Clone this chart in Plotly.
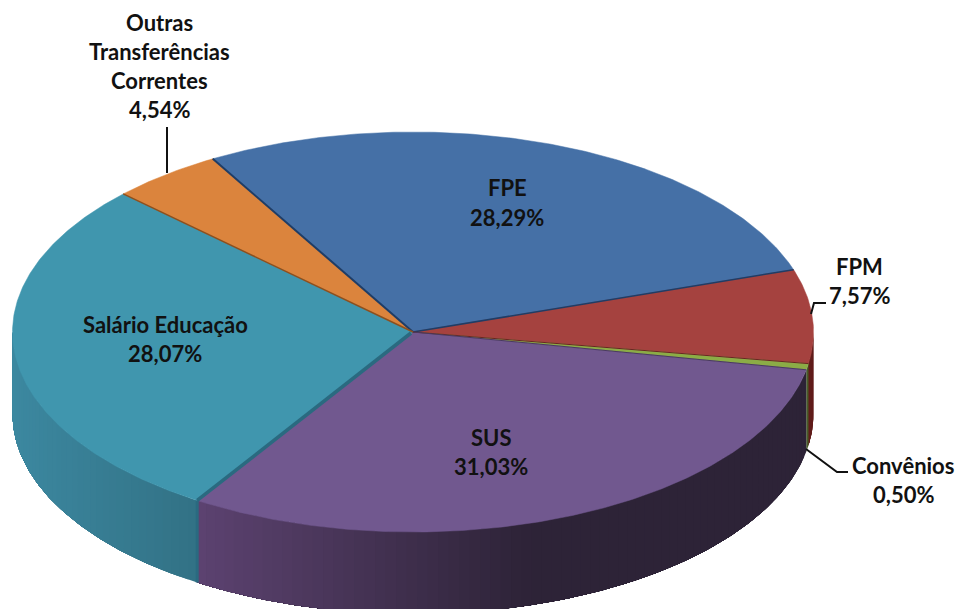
import math
import plotly.graph_objects as go

categories = ["FPE", "FPM", "Convênios", "SUS", "Salário Educação", "Outras Transferências Correntes"]
values = [28.29, 7.57, 0.50, 31.03, 28.07, 4.54]
value_labels = ["28,29%", "7,57%", "0,50%", "31,03%", "28,07%", "4,54%"]
top_colors = ["#4570a6", "#a5423f", "#8bac46", "#71588f", "#4096ae", "#db843d"]
edge_colors = ["#1f3d66", "#6a2422", "#4a6a22", "#4a3a60", "#2a6a80", "#8a5020"]

CX, CY, RX, RY, DEPTH = 413.0, 332.0, 400.5, 200.0, 82.0
START = -30.0


def pt(deg, dy=0.0):
    a = math.radians(deg)
    return CX + RX * math.sin(a), CY - RY * math.cos(a) + dy


def arc(a0, a1, dy=0.0):
    n = max(2, int(abs(a1 - a0) * 2))
    return [pt(a0 + (a1 - a0) * i / n, dy) for i in range(n + 1)]


def lerp(c0, c1, t):
    t = max(0.0, min(1.0, t))
    return "rgb(%d,%d,%d)" % tuple(round(a + (b - a) * t) for a, b in zip(c0, c1))


def side_color(i, x):
    if i == 1:
        return "rgb(96,28,26)"
    if i == 2:
        return "rgb(72,92,40)"
    if i == 3:
        return lerp((92, 66, 112), (45, 35, 55), (x - 200) / 330)
    if i == 4:
        return lerp((60, 136, 160), (50, 113, 133), (x - 12) / 185)
    return "rgb(60,90,130)"


fig = go.Figure()


def poly(pts, color, lw=0.0):
    xs = [p[0] for p in pts] + [pts[0][0]]
    ys = [p[1] for p in pts] + [pts[0][1]]
    fig.add_trace(go.Scatter(x=xs, y=ys, mode="lines", fill="toself", fillcolor=color,
                             line=dict(color=color, width=lw), hoverinfo="skip", showlegend=False))


def line(pts, color="#111111", w=2.0):
    fig.add_trace(go.Scatter(x=[p[0] for p in pts], y=[p[1] for p in pts], mode="lines",
                             line=dict(color=color, width=w), hoverinfo="skip", showlegend=False))


# slice boundaries derived from the values
bounds = []
a = START
for v in values:
    bounds.append((a, a + v * 3.6))
    a += v * 3.6

# side walls, front half only; each band runs to the wall's end and is overpainted by the next
for i, (a0, a1) in enumerate(bounds):
    lo, hi = max(a0, 90.0), min(a1, 270.0)
    if hi <= lo:
        continue
    steps = max(1, int((hi - lo) / 1.5))
    for s in range(steps):
        b0 = lo + (hi - lo) * s / steps
        b1 = lo + (hi - lo) * (s + 1) / steps
        xm = (pt(b0)[0] + pt(b1)[0]) / 2
        poly(arc(b0, hi) + arc(hi, b0, DEPTH), side_color(i, xm))

# top faces
for i, (a0, a1) in enumerate(bounds):
    poly([(CX, CY)] + arc(a0, a1), top_colors[i], 0.5)

# dark cut lines between slices
line([(CX, CY), pt(bounds[0][0])], edge_colors[0], 2)
line([(CX, CY), pt(bounds[0][1])], edge_colors[0], 1.5)
line([(CX, CY), pt(bounds[1][1])], edge_colors[1], 1)
line([(CX, CY), pt(bounds[2][1])], edge_colors[3], 1)
x_cut, y_cut = pt(bounds[3][1])
line([(CX - 2, CY + 1), (x_cut, y_cut)], edge_colors[4], 3.5)
line([(CX, CY), pt(bounds[4][1])], edge_colors[5], 1.5)
line([(x_cut, y_cut), (x_cut, y_cut + DEPTH)], edge_colors[4], 3)

# leader lines
line([(167, 173), (167, 127)])
line([(811, 314), (814, 303), (826, 303)])
line([(806, 449), (837, 472), (848, 472)])

# text, each line placed on its own to keep the line spacing
label_lines = [
    (["FPE", value_labels[0]], 507, [187, 217]),
    (["FPM", value_labels[1]], 859, [266, 295]),
    (["Convênios", value_labels[2]], 903, [465, 494]),
    (["SUS", value_labels[3]], 491, [437, 466]),
    (["Salário Educação", value_labels[4]], 165, [324, 353]),
    (["Outras", "Transferências", "Correntes", value_labels[5]], 159, [22, 51, 80, 109]),
]
for texts, x, ys in label_lines:
    for t, y in zip(texts, ys):
        fig.add_annotation(x=x, y=y, text=t, showarrow=False, xanchor="center", yanchor="middle",
                           font=dict(family="Lato", size=22, color="#111111", weight="bold"))

fig.update_layout(
    width=955, height=609, margin=dict(l=0, r=0, t=0, b=0),
    paper_bgcolor="white", plot_bgcolor="white", showlegend=False,
    xaxis=dict(range=[0, 955], visible=False, fixedrange=True),
    yaxis=dict(range=[609, 0], visible=False, fixedrange=True),
)
fig.write_html("out.html", config={"displayModeBar": False},
               post_script="document.body.style.margin='0';document.documentElement.style.overflow='hidden';")
